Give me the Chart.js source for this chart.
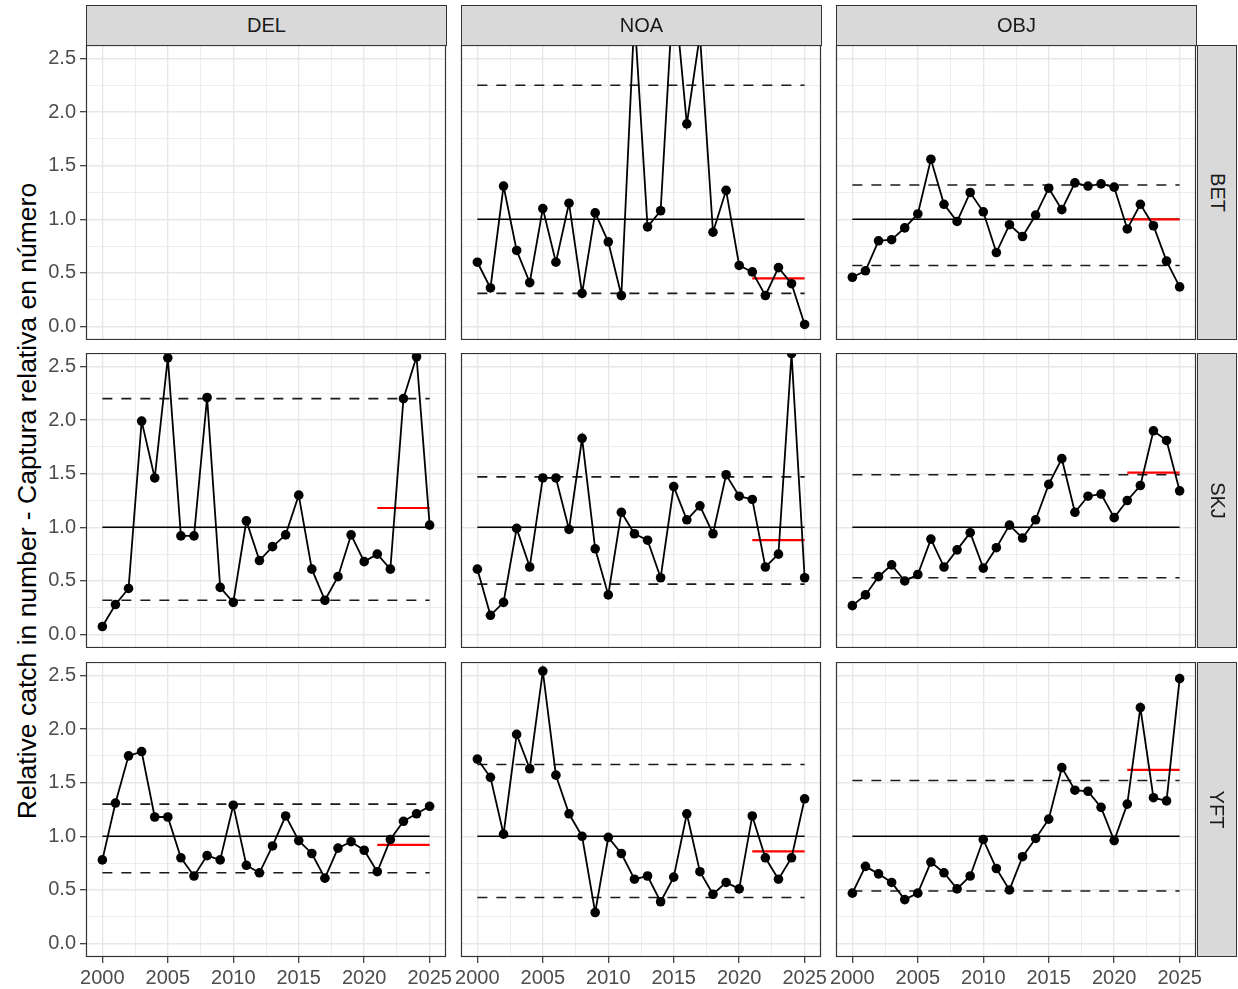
<!DOCTYPE html>
<html>
<head>
<meta charset="utf-8">
<script src="https://cdn.jsdelivr.net/npm/chart.js@4.4.1/dist/chart.umd.min.js"></script>
<style>
  body { margin: 0; background: #fff; font-family: "Liberation Sans", Arial, sans-serif; }
  #wrap { position: relative; width: 1238px; height: 989px; overflow: hidden; }
  canvas { position: absolute; }
  .strip { position: absolute; background: #d9d9d9; border: 1px solid #333; box-sizing: border-box;
           color: #1a1a1a; font-size: 20px; display: flex; align-items: center; justify-content: center; }
  .strip.right span { display: inline-block; transform: rotate(90deg); }
  #ytitle { position: absolute; left: 27px; top: 501px; transform: translate(-50%, -50%) rotate(-90deg);
            white-space: nowrap; font-size: 26.5px; color: #000; }
</style>
</head>
<body>
<div id="wrap">
  <div id="ytitle">Relative catch in number - Captura relativa en número</div>
</div>
<script>
"use strict";

// facets
const gears = ["DEL", "NOA", "OBJ"];
const species = ["BET", "SKJ", "YFT"];

const years = [2000, 2001, 2002, 2003, 2004, 2005, 2006, 2007, 2008, 2009, 2010, 2011, 2012,
               2013, 2014, 2015, 2016, 2017, 2018, 2019, 2020, 2021, 2022, 2023, 2024, 2025];
const recentStart = 2021;

const xMajor = [2000, 2005, 2010, 2015, 2020, 2025];
const xMinor = [2002.5, 2007.5, 2012.5, 2017.5, 2022.5];
const yMajor = [0, 0.5, 1, 1.5, 2, 2.5];
const yMinor = [0.25, 0.75, 1.25, 1.75, 2.25];

// relative catch, by gear x species (DEL/BET has no data)
const delBet = null;
const noaBet = [0.60, 0.36, 1.31, 0.71, 0.41, 1.10, 0.60, 1.15, 0.31, 1.06, 0.79, 0.29, 2.90,
                0.93, 1.08, 3.20, 1.89, 2.72, 0.88, 1.27, 0.57, 0.51, 0.29, 0.55, 0.40, 0.02];
const objBet = [0.46, 0.52, 0.80, 0.81, 0.92, 1.05, 1.56, 1.14, 0.98, 1.25, 1.07, 0.69, 0.95,
                0.84, 1.04, 1.29, 1.09, 1.34, 1.31, 1.33, 1.30, 0.91, 1.14, 0.94, 0.61, 0.37];
const delSkj = [0.075, 0.28, 0.43, 1.99, 1.46, 2.58, 0.92, 0.92, 2.21, 0.44, 0.30, 1.06, 0.69,
                0.82, 0.93, 1.30, 0.61, 0.32, 0.54, 0.93, 0.68, 0.75, 0.61, 2.20, 2.59, 1.02];
const noaSkj = [0.61, 0.18, 0.30, 0.99, 0.63, 1.46, 1.46, 0.98, 1.83, 0.80, 0.37, 1.14, 0.94,
                0.88, 0.53, 1.38, 1.07, 1.20, 0.94, 1.49, 1.29, 1.26, 0.63, 0.75, 2.62, 0.53];
const objSkj = [0.27, 0.37, 0.54, 0.65, 0.50, 0.56, 0.89, 0.63, 0.79, 0.95, 0.62, 0.81, 1.02,
                0.90, 1.07, 1.40, 1.64, 1.14, 1.29, 1.31, 1.09, 1.25, 1.39, 1.90, 1.81, 1.34];
const delYft = [0.78, 1.31, 1.75, 1.79, 1.18, 1.18, 0.80, 0.63, 0.82, 0.78, 1.29, 0.73, 0.66,
                0.91, 1.19, 0.96, 0.84, 0.61, 0.89, 0.95, 0.87, 0.67, 0.97, 1.14, 1.21, 1.28];
const noaYft = [1.72, 1.55, 1.02, 1.95, 1.63, 2.54, 1.57, 1.21, 1.00, 0.29, 0.99, 0.84, 0.60,
                0.63, 0.39, 0.62, 1.21, 0.67, 0.46, 0.57, 0.51, 1.19, 0.80, 0.60, 0.80, 1.35];
const objYft = [0.47, 0.72, 0.65, 0.57, 0.41, 0.47, 0.76, 0.66, 0.51, 0.63, 0.97, 0.70, 0.50,
                0.81, 0.98, 1.16, 1.64, 1.43, 1.42, 1.27, 0.96, 1.30, 2.20, 1.36, 1.33, 2.47];

// reference lines: [upper, lower, recent mean]
const delBetRef = null;
const noaBetRef = [2.25, 0.31, 0.45];
const objBetRef = [1.32, 0.57, 1.00];
const delSkjRef = [2.20, 0.32, 1.18];
const noaSkjRef = [1.47, 0.47, 0.88];
const objSkjRef = [1.49, 0.53, 1.51];
const delYftRef = [1.30, 0.66, 0.92];
const noaYftRef = [1.67, 0.43, 0.86];
const objYftRef = [1.52, 0.49, 1.62];

const series = [[delBet, noaBet, objBet], [delSkj, noaSkj, objSkj], [delYft, noaYft, objYft]];
const refs = [[delBetRef, noaBetRef, objBetRef], [delSkjRef, noaSkjRef, objSkjRef],
              [delYftRef, noaYftRef, objYftRef]];

const FONT = '"Liberation Sans", Arial, sans-serif';
const panelLeft = [86, 461, 836];
const panelTop = [45, 353, 662];
const PW = 360, PH = 295;
const wrap = document.getElementById("wrap");

const frame = {
  id: "frame",
  afterDraw(c) {
    const a = c.chartArea, x = c.ctx;
    x.save();
    x.strokeStyle = "#333";
    x.lineWidth = 1.2;
    x.strokeRect(a.left + 0.5, a.top + 0.5, a.width - 1, a.height - 1);
    x.restore();
  }
};

function hline(y, x0, x1, color, width, dash) {
  return {
    data: [{ x: x0, y }, { x: x1, y }], borderColor: color, borderWidth: width,
    borderDash: dash, pointRadius: 0, fill: false, clip: 0,
  };
}

function ticksOf(major, minor) {
  return major.concat(minor).sort((a, b) => a - b).map((v) => ({ value: v }));
}

function panel(r, c) {
  const s = series[r][c], ref = refs[r][c];
  const showY = c === 0, showX = r === 2;
  const padL = showY ? 0 : 30, padR = 30;
  const yW = showY ? 86 : 0, xH = showX ? 34 : 0;

  const cv = document.createElement("canvas");
  cv.width = padL + yW + PW + padR;
  cv.height = PH + xH;
  cv.style.left = (panelLeft[c] - yW - padL) + "px";
  cv.style.top = panelTop[r] + "px";
  wrap.appendChild(cv);

  const datasets = [];
  if (s) {
    const last = years[years.length - 1];
    datasets.push({
      data: years.map((y, i) => ({ x: y, y: s[i] })), borderColor: "#000", backgroundColor: "#000",
      borderWidth: 1.8, pointRadius: 4.8, pointBorderWidth: 0, clip: 0,
    });
    datasets.push(hline(ref[2], recentStart, last, "#ff0000", 2.2, []));
    datasets.push(hline(1, years[0], last, "#000", 1.5, []));
    datasets.push(hline(ref[0], years[0], last, "#1a1a1a", 1.6, [10, 9]));
    datasets.push(hline(ref[1], years[0], last, "#1a1a1a", 1.6, [10, 9]));
  }

  const grid = (major) => ({
    color: "#e8e8e8",
    lineWidth: (ctx) => (ctx.tick && major.includes(ctx.tick.value) ? 1.4 : 0.8),
    tickColor: (ctx) => (ctx.tick && major.includes(ctx.tick.value) ? "#333" : "rgba(0,0,0,0)"),
    tickWidth: 1.2,
    tickLength: 6,
  });

  new Chart(cv, {
    type: "line",
    data: { datasets },
    options: {
      responsive: false, animation: false, devicePixelRatio: 1,
      layout: { autoPadding: false, padding: { left: padL, right: padR, top: 0, bottom: 0 } },
      plugins: { legend: { display: false }, tooltip: { enabled: false } },
      events: [],
      scales: {
        x: {
          type: "linear", min: 1998.75, max: 2026.25,
          afterBuildTicks: (a) => { a.ticks = ticksOf(xMajor, xMinor); },
          afterFit: (a) => { a.height = xH; a.paddingLeft = 0; a.paddingRight = 0; },
          grid: Object.assign(grid(xMajor), { drawTicks: showX }),
          border: { display: false },
          ticks: {
            display: showX, autoSkip: false, maxRotation: 0, padding: 3,
            color: "#4d4d4d", font: { family: FONT, size: 20 },
            callback: (v) => (xMajor.includes(v) ? String(v) : ""),
          },
        },
        y: {
          type: "linear", min: -0.125, max: 2.625,
          afterBuildTicks: (a) => { a.ticks = ticksOf(yMajor, yMinor); },
          afterFit: (a) => { a.width = yW; a.paddingTop = 0; a.paddingBottom = 0; },
          grid: Object.assign(grid(yMajor), { drawTicks: showY }),
          border: { display: false },
          ticks: {
            display: showY, autoSkip: false, padding: 4,
            color: "#4d4d4d", font: { family: FONT, size: 20 },
            callback: (v) => (yMajor.includes(v) ? v.toFixed(1) : ""),
          },
        },
      },
    },
    plugins: [frame],
  });
}

for (let r = 0; r < 3; r++) for (let c = 0; c < 3; c++) panel(r, c);

gears.forEach((g, c) => {
  const d = document.createElement("div");
  d.className = "strip";
  d.style.left = panelLeft[c] + "px"; d.style.top = "5px";
  d.style.width = (PW + 1) + "px"; d.style.height = "41px";
  d.textContent = g;
  wrap.appendChild(d);
});
species.forEach((sp, r) => {
  const d = document.createElement("div");
  d.className = "strip right";
  d.style.left = "1197px"; d.style.top = panelTop[r] + "px";
  d.style.width = "40px"; d.style.height = PH + "px";
  const t = document.createElement("span");
  t.textContent = sp;
  d.appendChild(t);
  wrap.appendChild(d);
});
</script>
</body>
</html>
